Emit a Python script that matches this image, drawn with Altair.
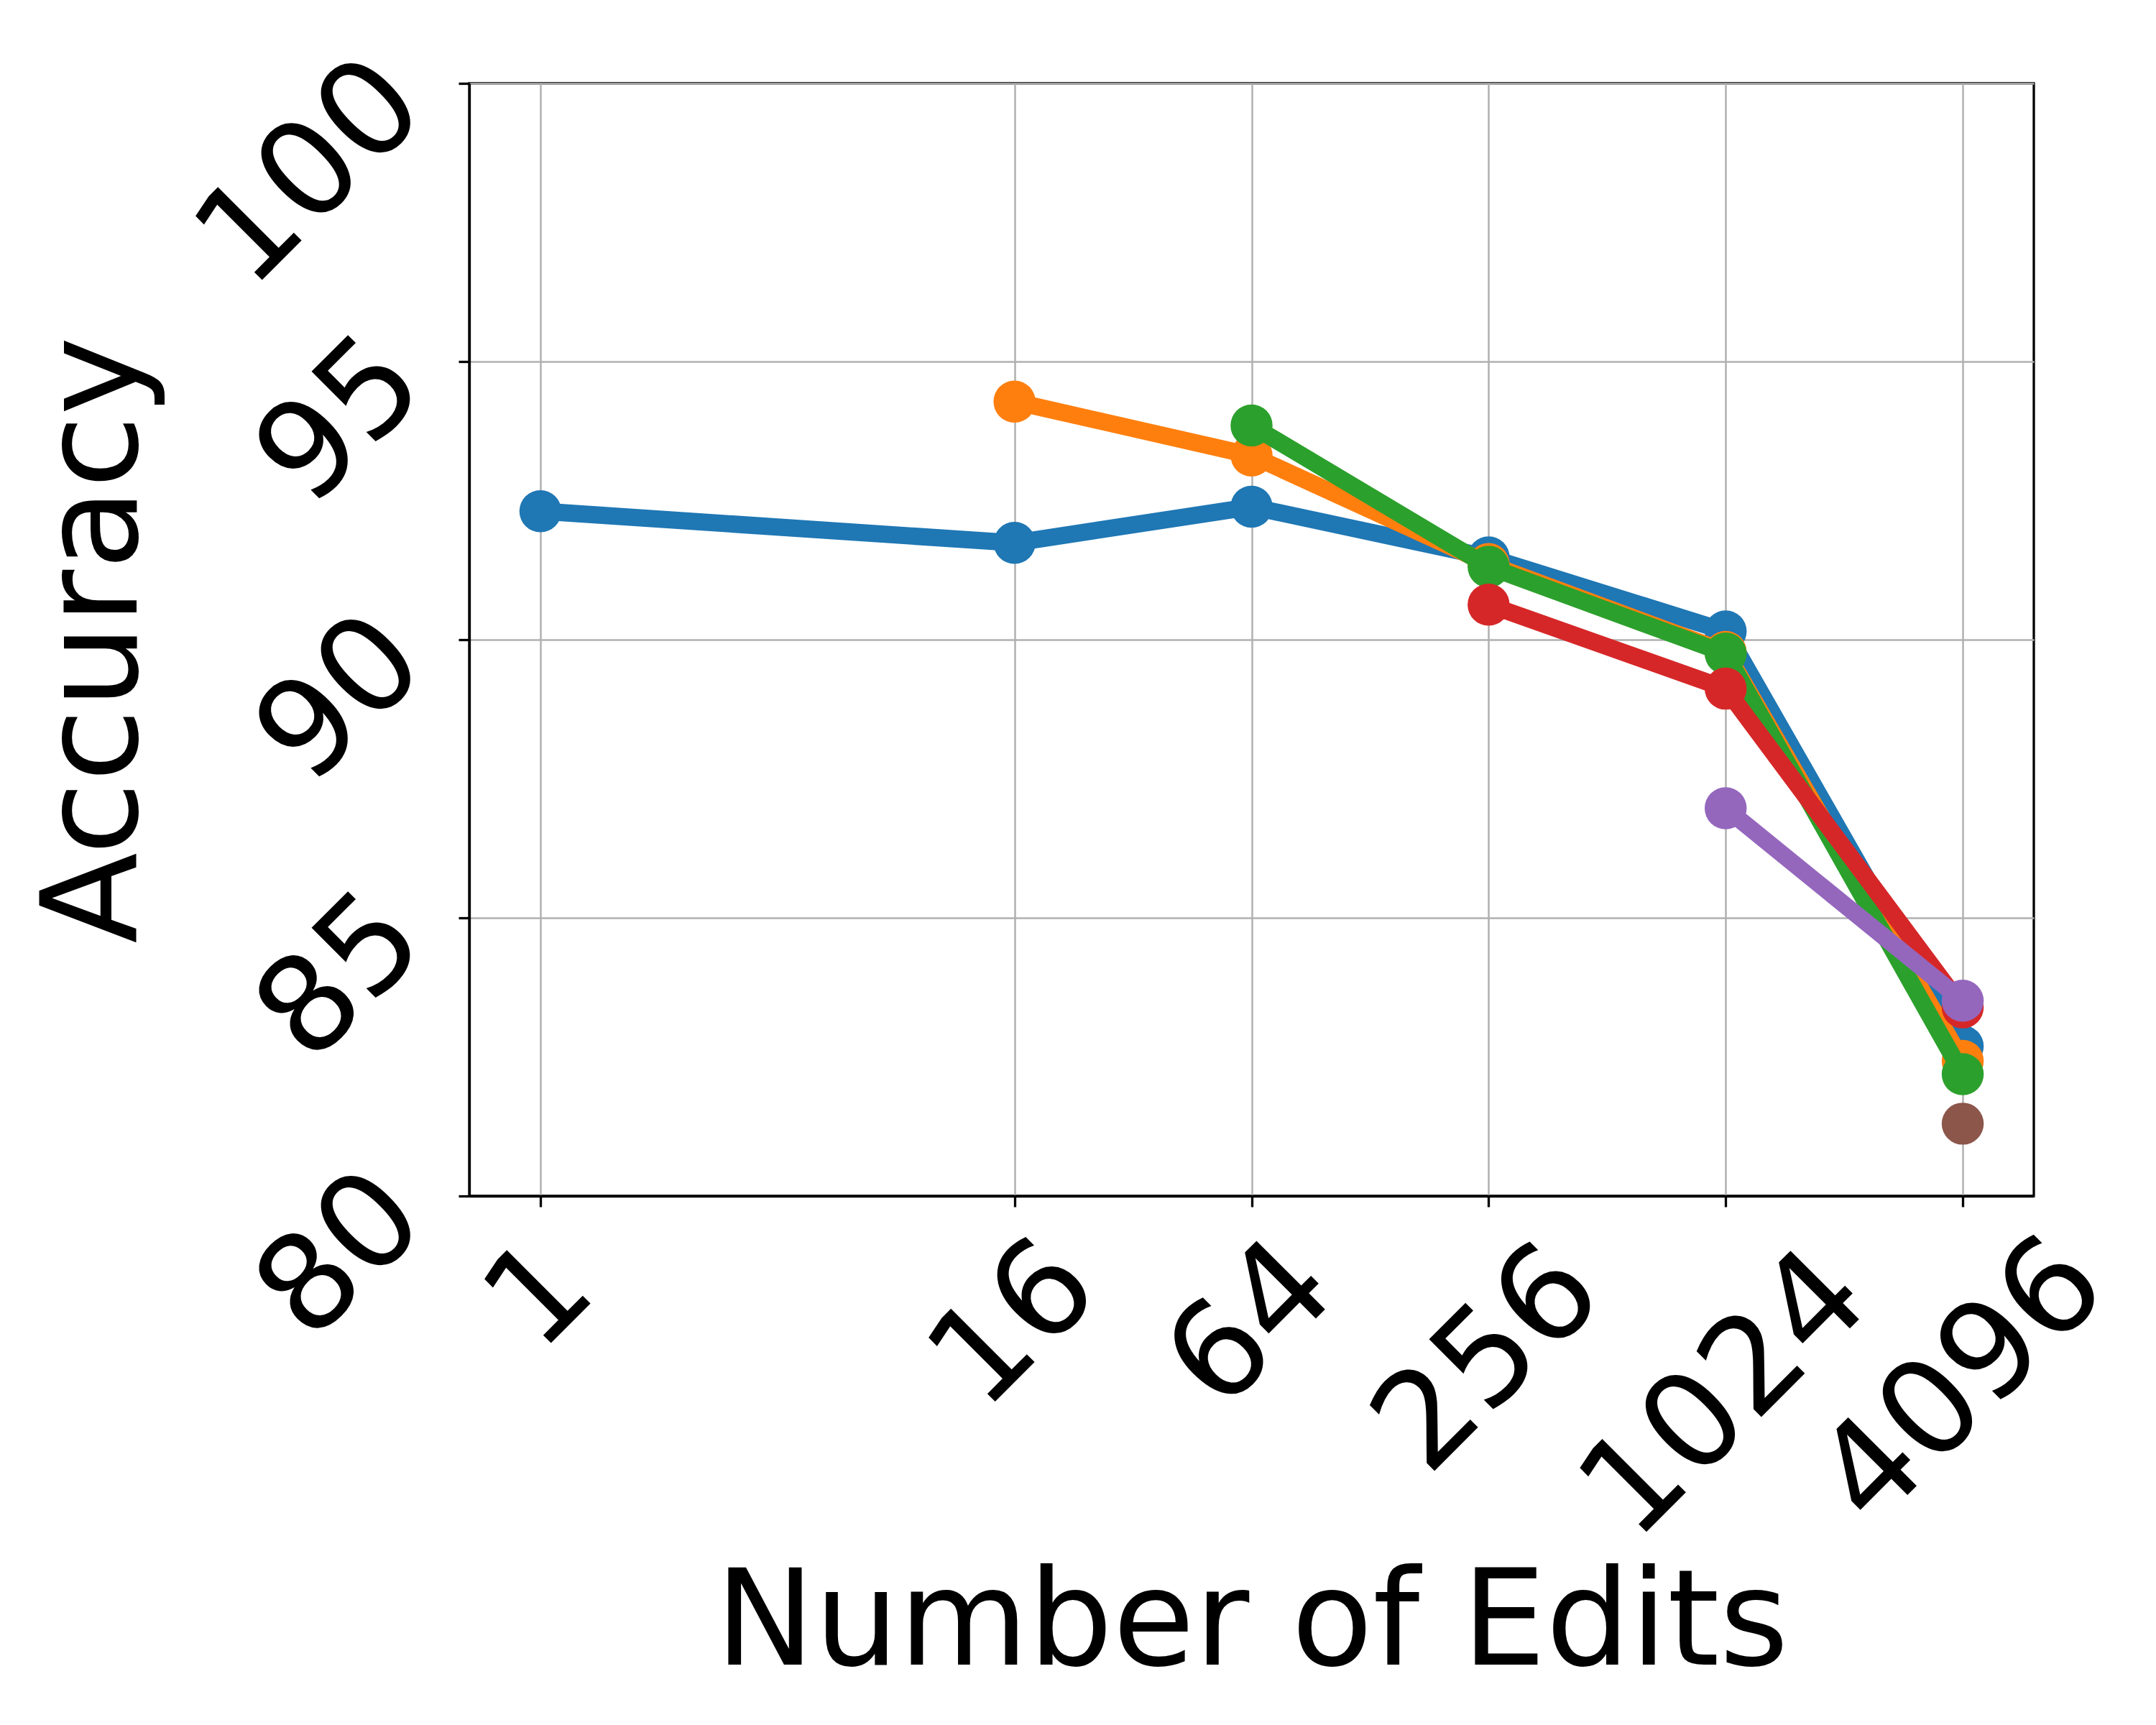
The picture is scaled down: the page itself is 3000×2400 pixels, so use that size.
import altair as alt
import pandas as pd

edits = [1, 16, 64, 256, 1024, 4096]
series_names = ["s1", "s16", "s64", "s256", "s1024", "s4096"]
series_colors = ["#1f77b4", "#ff7f0e", "#2ca02c", "#d62728", "#9467bd", "#8c564b"]

acc_s1 = [92.31, 91.74, 92.39, 91.48, 90.15, 82.69]
acc_s16 = [None, 94.28, 93.31, 91.36, 89.78, 82.43]
acc_s64 = [None, None, 93.85, 91.31, 89.75, 82.19]
acc_s256 = [None, None, None, 90.63, 89.12, 83.39]
acc_s1024 = [None, None, None, None, 86.97, 83.51]
acc_s4096 = [None, None, None, None, None, 81.30]

all_acc = [acc_s1, acc_s16, acc_s64, acc_s256, acc_s1024, acc_s4096]
y_ticks = [80, 85, 90, 95, 100]

rows = []
for name, vals in zip(series_names, all_acc):
    for e, v in zip(edits, vals):
        if v is not None:
            rows.append({"edits": e, "acc": v, "series": name})
df = pd.DataFrame(rows)

FONT = "DejaVu Sans"
TICK_FS = 185
TITLE_FS = 185

x_enc = alt.X(
    "edits:Q",
    scale=alt.Scale(type="log", base=2, domain=[2 ** -0.6, 2 ** 12.6], nice=False),
    axis=alt.Axis(
        values=edits,
        format="d",
        title="Number of Edits",
        labelAngle=315,
        labelAlign="center",
        labelBaseline="middle",
        labelPadding={
            "condition": [
                {"test": "datum.value == 1", "value": 124},
                {"test": "datum.value == 16", "value": 164},
                {"test": "datum.value == 64", "value": 165},
                {"test": "datum.value == 256", "value": 212},
                {"test": "datum.value == 1024", "value": 262},
            ],
            "value": 244,
        },
        titleY=505,
        titleBaseline="top",
    ),
)
y_enc = alt.Y(
    "acc:Q",
    scale=alt.Scale(domain=[80, 100], nice=False, zero=False),
    axis=alt.Axis(
        values=y_ticks,
        title="Accuracy",
        labelAngle=315,
        labelAlign="right",
        labelBaseline="middle",
        labelPadding=80,
        titleX=-425,
        titleBaseline="bottom",
    ),
)

base = alt.Chart(df).encode(x=x_enc, y=y_enc)

layers = []
for name, color in zip(series_names, series_colors):
    sub = base.transform_filter(alt.datum.series == name)
    layers.append(sub.mark_line(color=color, strokeWidth=24, strokeJoin="round", strokeCap="butt"))
    layers.append(sub.mark_circle(color=color, size=3420, opacity=1))

chart = (
    alt.layer(*layers)
    .properties(width=2177, height=1548, padding={"left": 33, "top": 42, "right": 5, "bottom": 50})
    .configure_view(stroke="black", strokeWidth=3.3)
    .configure_axis(
        labelFont=FONT,
        titleFont=FONT,
        labelFontSize=TICK_FS,
        titleFontSize=TITLE_FS,
        titleFontWeight="normal",
        labelColor="black",
        titleColor="black",
        labelLimit=0,
        grid=True,
        gridColor="#b0b0b0",
        gridWidth=2.5,
        domainColor="black",
        domainWidth=3.3,
        tickColor="black",
        tickWidth=3.3,
        tickSize=15,
        labelOverlap=False,
        labelFlush=False,
        labelBound=False,
    )
)

chart.save("out.html", embed_options={"renderer": "svg", "actions": False})
